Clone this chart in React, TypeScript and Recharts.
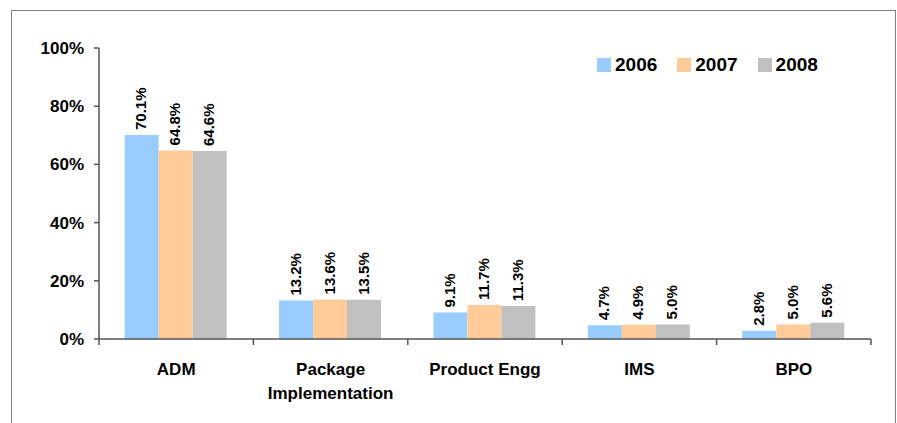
import React from "react";
import { BarChart, Bar, XAxis, YAxis, Legend, LabelList } from "recharts";

const categories = ["ADM", "Package Implementation", "Product Engg", "IMS", "BPO"];
const series2006 = [70.1, 13.2, 9.1, 4.7, 2.8];
const series2007 = [64.8, 13.6, 11.7, 4.9, 5.0];
const series2008 = [64.6, 13.5, 11.3, 5.0, 5.6];
const yTicks = [0, 20, 40, 60, 80, 100];
const seriesNames = ["2006", "2007", "2008"];
const seriesColors = ["#99CCFF", "#FFCC99", "#C0C0C0"];

const data = categories.map((name, i) => ({
  name,
  y2006: series2006[i],
  y2007: series2007[i],
  y2008: series2008[i],
}));

const FONT = "Arial, 'Liberation Sans', sans-serif";
const AXIS = "#555555";

const XTick = (props: any) => {
  const { x, y, payload, index } = props;
  const half = payload && payload.offset ? payload.offset : 77;
  const label = String(payload.value);
  const sp = label.indexOf(" ");
  const lines = label.length > 15 && sp > 0 ? [label.slice(0, sp), label.slice(sp + 1)] : [label];
  const isLast = index === categories.length - 1;
  return (
    <g>
      <line x1={x - half} x2={x - half} y1={y} y2={y + 6} stroke={AXIS} strokeWidth={1.5} />
      {isLast && <line x1={x + half} x2={x + half} y1={y} y2={y + 6} stroke={AXIS} strokeWidth={1.5} />}
      {lines.map((l, k) => (
        <text
          key={k}
          x={x}
          y={y + 36 + k * 24}
          textAnchor="middle"
          fontFamily={FONT}
          fontWeight="bold"
          fontSize={17}
          fill="#000"
        >
          {l}
        </text>
      ))}
    </g>
  );
};

const BarLabel = (props: any) => {
  const { x, y, width, value } = props;
  const cx = x + width / 2 - 1;
  const ty = y - 5;
  return (
    <text
      x={cx}
      y={ty}
      transform={`rotate(-90, ${cx}, ${ty})`}
      textAnchor="start"
      dominantBaseline="central"
      fontFamily={FONT}
      fontWeight="bold"
      fontSize={15}
      fill="#000"
    >
      {Number(value).toFixed(1)}%
    </text>
  );
};

const LegendContent = () => (
  <div style={{ display: "flex", alignItems: "center", fontFamily: FONT }}>
    {seriesNames.map((n, i) => (
      <div key={n} style={{ display: "flex", alignItems: "center", marginRight: 20 }}>
        <div style={{ width: 14, height: 14, background: seriesColors[i], marginRight: 4 }} />
        <span style={{ fontSize: 19, fontWeight: "bold", color: "#000", lineHeight: "20px" }}>{n}</span>
      </div>
    ))}
  </div>
);

export default function App() {
  return (
    <div style={{ position: "absolute", left: 0, top: 0, width: 897, height: 423, overflow: "hidden", background: "#fff" }}>
      <div
        style={{
          position: "absolute",
          left: 11,
          top: 10,
          width: 885,
          height: 440,
          border: "1px solid #808080",
          boxSizing: "border-box",
        }}
      />
      <BarChart
        width={897}
        height={423}
        data={data}
        margin={{ top: 48, right: 26, left: 39, bottom: 24 }}
        barCategoryGap="16.6%"
        barGap={0}
      >
        <XAxis
          dataKey="name"
          height={60}
          tickSize={0}
          tickMargin={0}
          tickLine={false}
          axisLine={{ stroke: AXIS, strokeWidth: 1.5 }}
          tick={<XTick />}
          interval={0}
        />
        <YAxis
          width={60}
          domain={[0, 100]}
          ticks={yTicks}
          tickFormatter={(v: number) => `${v}%`}
          tickSize={5}
          tickMargin={10}
          axisLine={{ stroke: AXIS, strokeWidth: 1.5 }}
          tickLine={{ stroke: AXIS, strokeWidth: 1.5 }}
          tick={{ fill: "#000", fontFamily: FONT, fontWeight: "bold", fontSize: 17 }}
          allowDataOverflow
        />
        <Legend
          layout="horizontal"
          verticalAlign="middle"
          align="center"
          wrapperStyle={{ left: 597, top: 55, width: 260, height: 22 }}
          content={<LegendContent />}
        />
        <Bar dataKey="y2006" name="2006" fill={seriesColors[0]} isAnimationActive={false}>
          <LabelList dataKey="y2006" content={<BarLabel />} />
        </Bar>
        <Bar dataKey="y2007" name="2007" fill={seriesColors[1]} isAnimationActive={false}>
          <LabelList dataKey="y2007" content={<BarLabel />} />
        </Bar>
        <Bar dataKey="y2008" name="2008" fill={seriesColors[2]} isAnimationActive={false}>
          <LabelList dataKey="y2008" content={<BarLabel />} />
        </Bar>
      </BarChart>
    </div>
  );
}
